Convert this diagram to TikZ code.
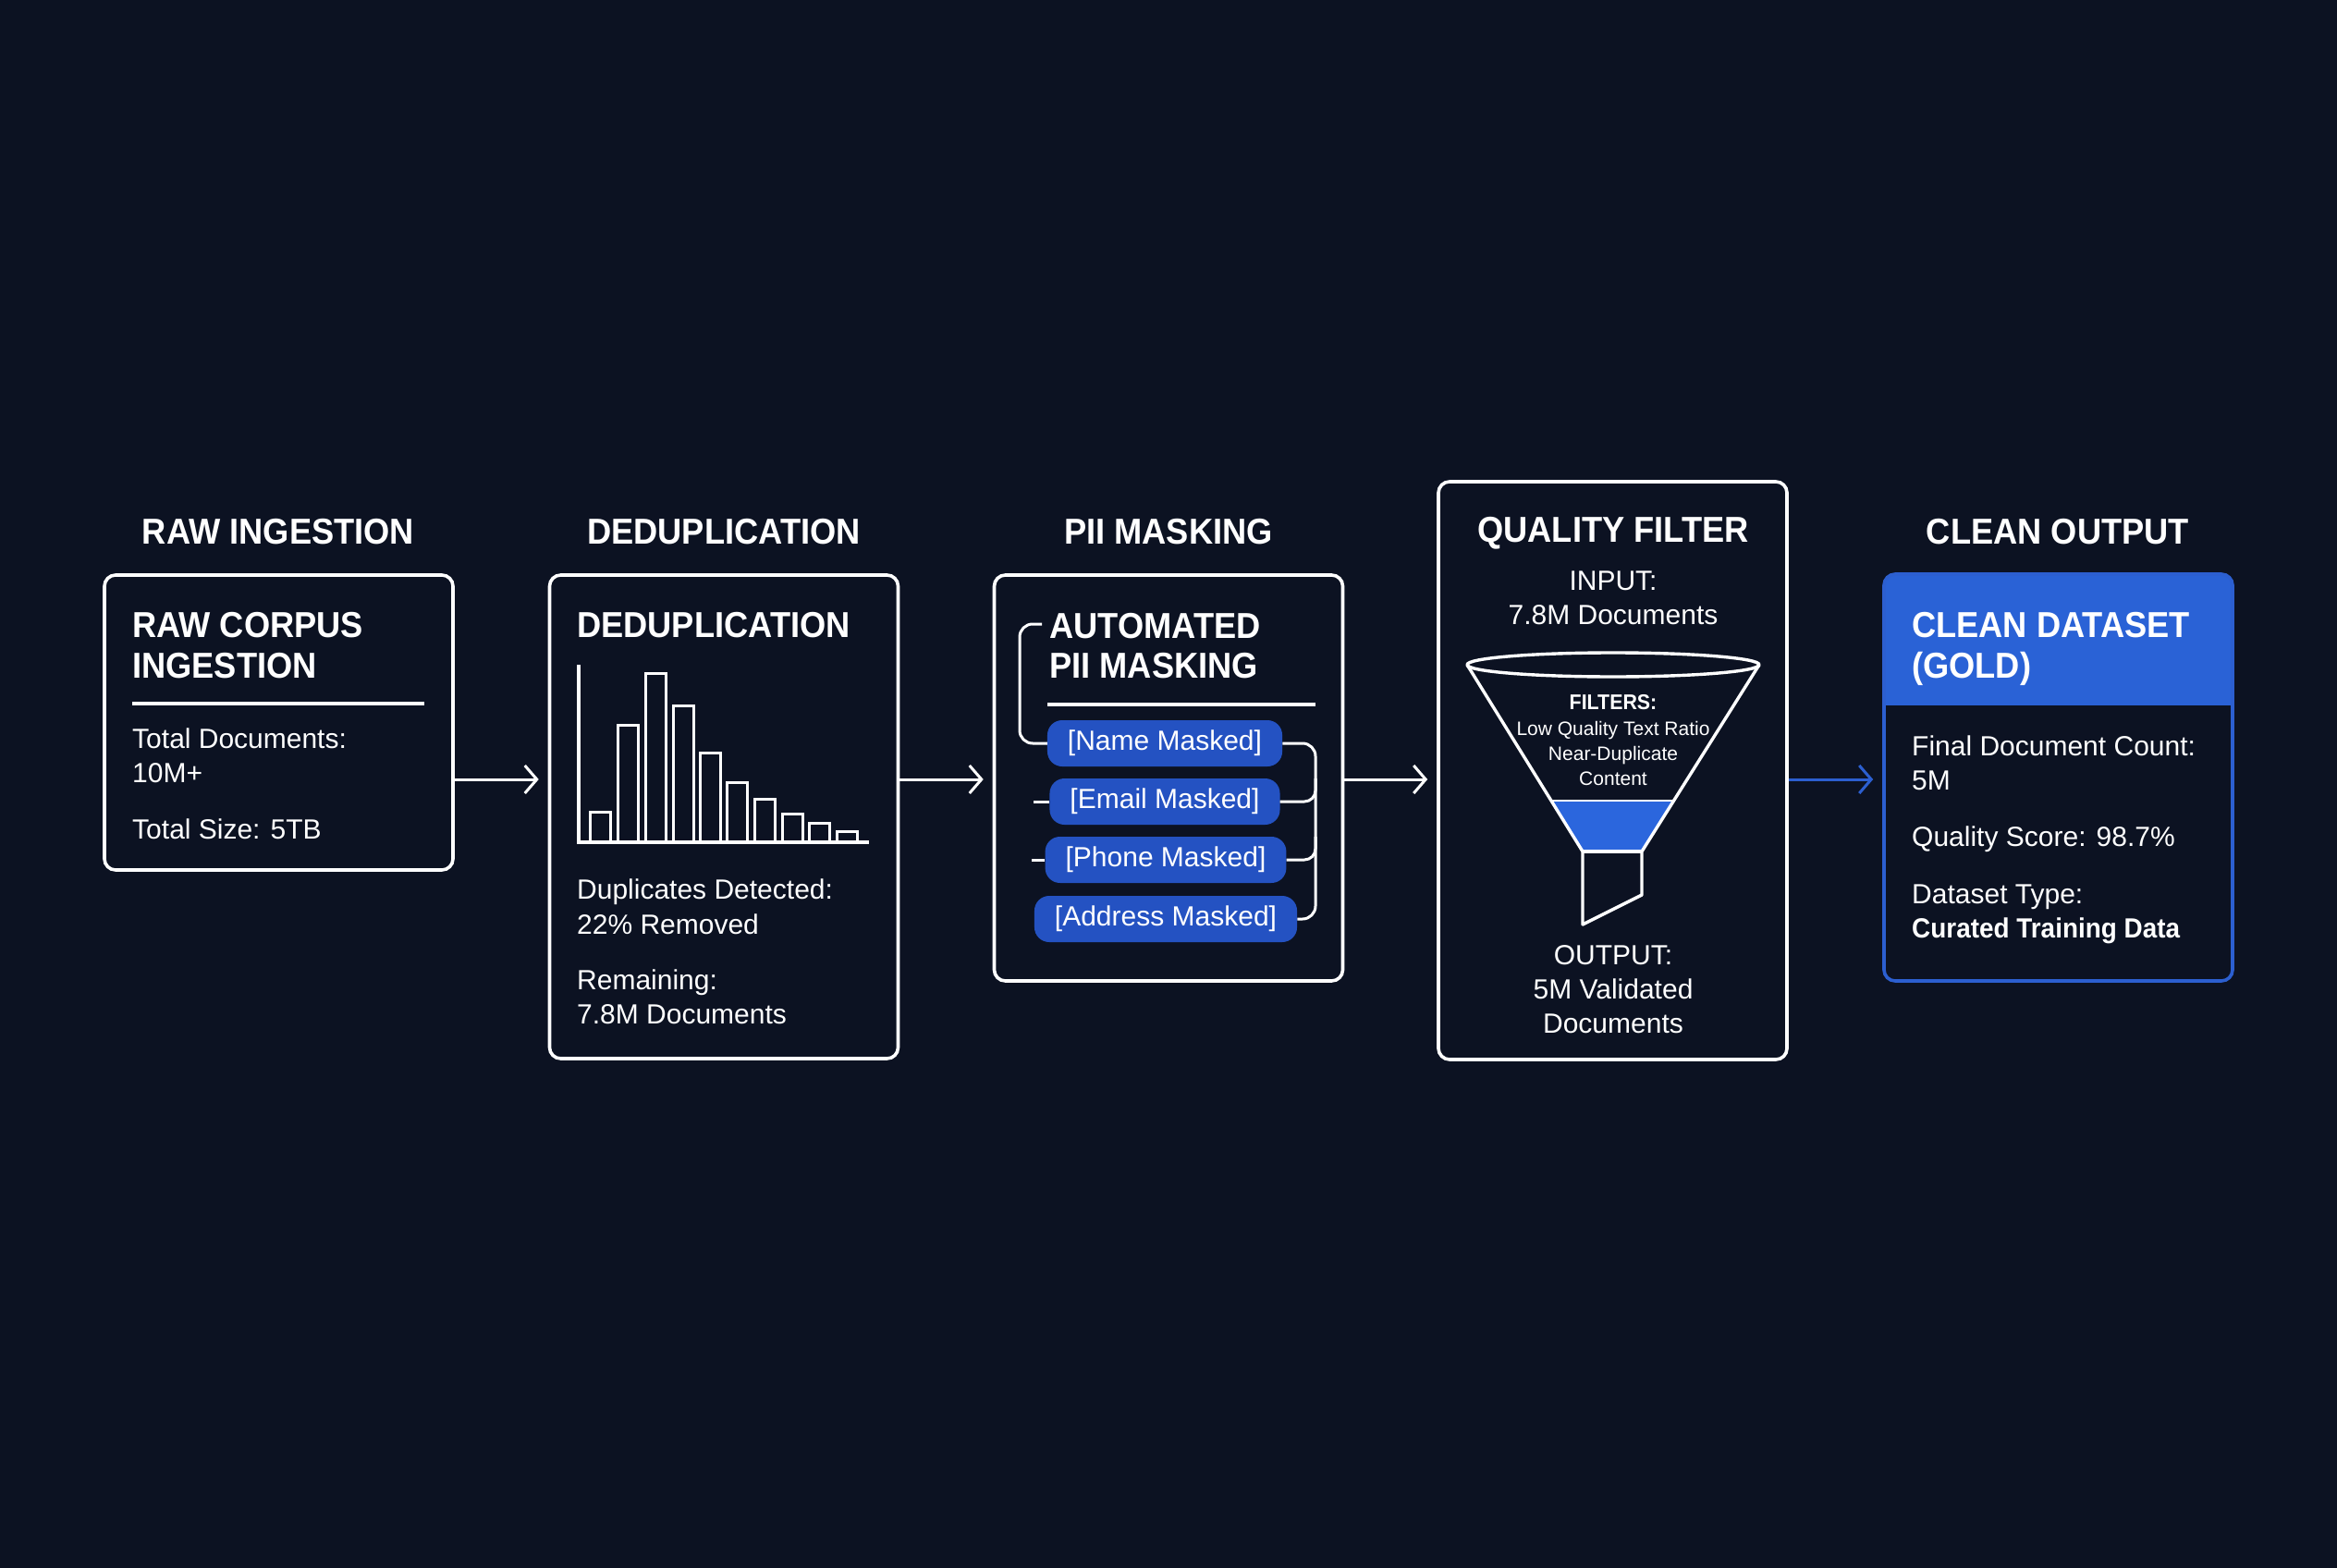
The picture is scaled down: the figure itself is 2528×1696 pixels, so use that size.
\documentclass[tikz,border=0pt]{standalone}
\usepackage{fontspec}
\setmainfont{Liberation Sans}[BoldFeatures={FakeStretch=0.93}]
\usetikzlibrary{arrows.meta}
\definecolor{bg}{HTML}{0C1222}
\definecolor{hdr}{HTML}{2A62D6}
\definecolor{pillc}{HTML}{2452C2}
\definecolor{band}{HTML}{2B66DD}
\definecolor{bdr}{HTML}{2C5FD0}
\newcommand\fsz[2]{\fontsize{#1}{#2}\selectfont}
\begin{document}
\begin{tikzpicture}[x=1pt,y=-1pt,
  box/.style={rectangle, draw=white, line width=3.6pt, rounded corners=12pt, minimum width=377pt, inner sep=0pt},
  ttl/.style={text=white, font=\fsz{39}{44}\bfseries, inner sep=0pt, anchor=base},
  hd/.style={text=white, font=\fsz{39}{44}\bfseries, inner sep=0pt, anchor=base west},
  bd/.style={text=white, font=\fsz{30}{37}, inner sep=0pt, anchor=base west},
  bdc/.style={text=white, font=\fsz{30}{37}, inner sep=0pt, anchor=base},
  sm/.style={text=white, font=\fsz{21}{26}, inner sep=0pt, anchor=base},
  pillst/.style={rectangle, fill=pillc, rounded corners=16pt, minimum height=50pt, inner xsep=22pt, inner ysep=0pt, text=white, font=\fsz{30}{36}},
  wl/.style={draw=white, line width=3.4pt, line join=round},
  pl/.style={draw=white, line width=3pt},
  arr/.style={line width=3pt, -{Straight Barb[length=13pt,width=30pt,line width=3pt]}, shorten >=10pt}
]
\useasboundingbox (0,0) rectangle (2528,1696);
\fill[bg] (0,0) rectangle (2528,1696);

% column titles
\node[ttl] (t1) at (301,588) {RAW INGESTION};
\node[ttl] (t2) at (783,588) {DEDUPLICATION};
\node[ttl] (t3) at (1264,588) {PII MASKING};
\node[ttl] (t5) at (2226,588) {CLEAN OUTPUT};

% boxes
\node[box, minimum height=319pt] (b1) at (301.5,781.5) {};
\node[box, minimum height=523pt] (b2) at (783,883.5) {};
\node[box, minimum height=439pt] (b3) at (1264,841.5) {};
\node[box, minimum height=625pt] (b4) at (1744.5,833.5) {};
\begin{scope}
\clip[rounded corners=12pt] (2038,621) rectangle (2415,1061);
\fill[hdr] (2038,621) rectangle (2415,763);
\end{scope}
\node[box, draw=bdr, minimum height=440pt] (b5) at (2226.5,841) {};

% box 1
\node[hd] (h1a) at (143,689) {RAW CORPUS};
\node[hd] (h1b) at (143,733) {INGESTION};
\draw[wl] (143,761) -- (459,761);
\node[bd] (b1t1) at (143,809) {Total Documents:};
\node[bd] (b1t2) at (143,846) {10M+};
\node[bd] (b1t3) at (143,907) {Total Size: 5TB};

% box 2
\node[hd] (h2) at (624,689) {DEDUPLICATION};
\draw[wl, line join=miter] (626,719) -- (626,911) -- (940,911);
\foreach \xx/\yy in {638/878, 668/784, 698/728, 728/763, 757/814, 786/846, 816/864, 846/880, 875/890, 905/899}
  \draw[draw=white, line width=3pt] (\xx,911) rectangle (\xx+22,\yy);
\node[bd] (b2t1) at (624,972) {Duplicates Detected:};
\node[bd] (b2t2) at (624,1010) {22\% Removed};
\node[bd] (b2t3) at (624,1070) {Remaining:};
\node[bd] (b2t4) at (624,1107) {7.8M Documents};

% box 3
\node[hd] (h3a) at (1135,690) {AUTOMATED};
\node[hd] (h3b) at (1135,733) {PII MASKING};
\draw[wl] (1133,762) -- (1423,762);
\node[pillst] (nm) at (1260,804) {[Name Masked]};
\node[pillst] (em) at (1260,867) {[Email Masked]};
\node[pillst] (ph) at (1261,930) {[Phone Masked]};
\node[pillst] (ad) at (1261,994) {[Address Masked]};
\coordinate (lb) at (1127,675);
\draw[pl, rounded corners=14pt] (lb) -- (1103,675) -- (1103,804) -- (nm.west);
\draw[pl, rounded corners=14pt] (nm.east) -| (1423,994) -- (ad.east);
\draw[pl, rounded corners=12pt] (em.east) -- (1423,867) -- (1423,842);
\draw[pl, rounded corners=12pt] (ph.east) -- (1423,930) -- (1423,905);
\draw[pl] (em.west) -- ++(-17,0);
\draw[pl] (ph.west) -- ++(-14,0);

% box 4
\node[ttl] (t4) at (1745,586) {QUALITY FILTER};
\node[bdc] (b4t1) at (1745,638) {INPUT:};
\node[bdc] (b4t2) at (1745,675) {7.8M Documents};
\fill[band] (1678,866) -- (1811,866) -- (1776,921) -- (1712,921) -- cycle;
\draw[wl] (1745,719) ellipse [x radius=158pt, y radius=13pt];
\draw[wl] (1587,719) -- (1712,921) -- (1712,1000) -- (1776,968) -- (1776,921) -- (1903,719);
\draw[wl] (1712,921) -- (1776,921);
\draw[draw=white, line width=2pt] (1678,866) -- (1811,866);
\node[sm, font=\fsz{23}{26}\bfseries] (f1) at (1745,767) {FILTERS:};
\node[sm] (f2) at (1745,795) {Low Quality Text Ratio};
\node[sm] (f3) at (1745,822) {Near-Duplicate};
\node[sm] (f4) at (1745,849) {Content};
\node[bdc] (b4t3) at (1745,1043) {OUTPUT:};
\node[bdc] (b4t4) at (1745,1080) {5M Validated};
\node[bdc] (b4t5) at (1745,1117) {Documents};

% box 5
\node[hd] (h5a) at (2068,689) {CLEAN DATASET};
\node[hd] (h5b) at (2068,733) {(GOLD)};
\node[bd] (b5t1) at (2068,817) {Final Document Count:};
\node[bd] (b5t2) at (2068,854) {5M};
\node[bd] (b5t3) at (2068,915) {Quality Score: 98.7\%};
\node[bd] (b5t4) at (2068,977) {Dataset Type:};
\node[bd, font=\fsz{30}{37}\bfseries] (b5t5) at (2068,1014) {Curated Training Data};

% arrows
\coordinate (ay) at (0,843);
\draw[arr, white] (b1.east |- ay) -- (b2.west |- ay);
\draw[arr, white] (b2.east |- ay) -- (b3.west |- ay);
\draw[arr, white] (b3.east |- ay) -- (b4.west |- ay);
\draw[arr, bdr] (b4.east |- ay) -- (b5.west |- ay);
\end{tikzpicture}
\end{document}
